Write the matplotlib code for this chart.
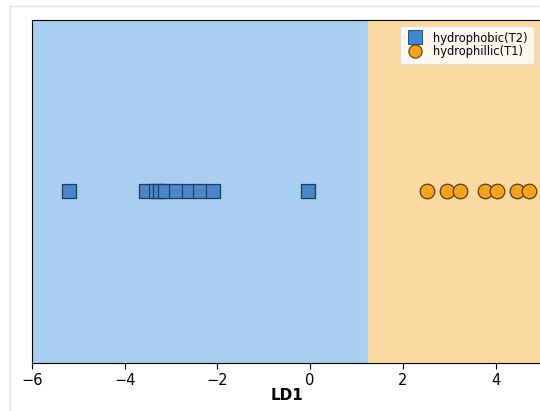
import matplotlib
matplotlib.use("Agg")
import matplotlib.pyplot as plt
from matplotlib.lines import Line2D

# LDA projection on the first discriminant
hydrophobic_ld1 = [-5.21, -3.54, -3.33, -3.24, -3.13, -2.89, -2.61, -2.38, -2.10, -0.04]
hydrophilic_ld1 = [2.53, 2.96, 3.24, 3.76, 4.04, 4.47, 4.71]
decision_boundary = 1.25
x_limits = (-6.0, 5.0)
x_ticks = [-6, -4, -2, 0, 2, 4]

labels = ["hydrophobic(T2)", "hydrophillic(T1)"]

fig = plt.figure(figsize=(5.40, 4.11), dpi=100)
ax = fig.add_axes([32 / 540, 1 - 363 / 411, 510 / 540, (363 - 20) / 411])

ax.axvspan(x_limits[0], decision_boundary, color="#a9cff0", zorder=0)
ax.axvspan(decision_boundary, x_limits[1], color="#fdd9a2", zorder=0)

ax.scatter(hydrophobic_ld1, [0] * len(hydrophobic_ld1), marker="s", s=110,
           color="#4a87c9", edgecolor="#1f3a5a", linewidth=0.9, zorder=3)
ax.scatter(hydrophilic_ld1, [0] * len(hydrophilic_ld1), marker="o", s=110,
           color="#f6a31e", edgecolor="#5a3a10", linewidth=0.9, zorder=3)

ax.set_xlim(*x_limits)
ax.set_ylim(-1, 1)
ax.set_yticks([])
ax.set_xticks(x_ticks)
ax.tick_params(axis="x", labelsize=10.5, length=4)
ax.set_xlabel("LD1", fontsize=11, fontweight="bold", labelpad=0)

handles = [
    Line2D([], [], marker="s", linestyle="", markersize=9.5,
           markerfacecolor="#3f86d6", markeredgecolor="#1f3a5a", markeredgewidth=0.6),
    Line2D([], [], marker="o", linestyle="", markersize=9.5,
           markerfacecolor="#f6a31e", markeredgecolor="#5a3a10", markeredgewidth=0.8),
]
ax.legend(handles, labels, loc="upper right", bbox_to_anchor=(0.995, 1.0),
          fontsize=8.3, frameon=True, framealpha=0.85, edgecolor="#dddddd",
          handletextpad=0.8, borderpad=0.5, labelspacing=0.08,
          handlelength=1.6)

# light frame around the figure
fig.add_artist(Line2D([10 / 540, 1], [1 - 6 / 411] * 2, color="#e2e2e2", lw=1))
fig.add_artist(Line2D([10 / 540] * 2, [0, 1 - 6 / 411], color="#e2e2e2", lw=1))

fig.savefig("out.png", dpi=100)
